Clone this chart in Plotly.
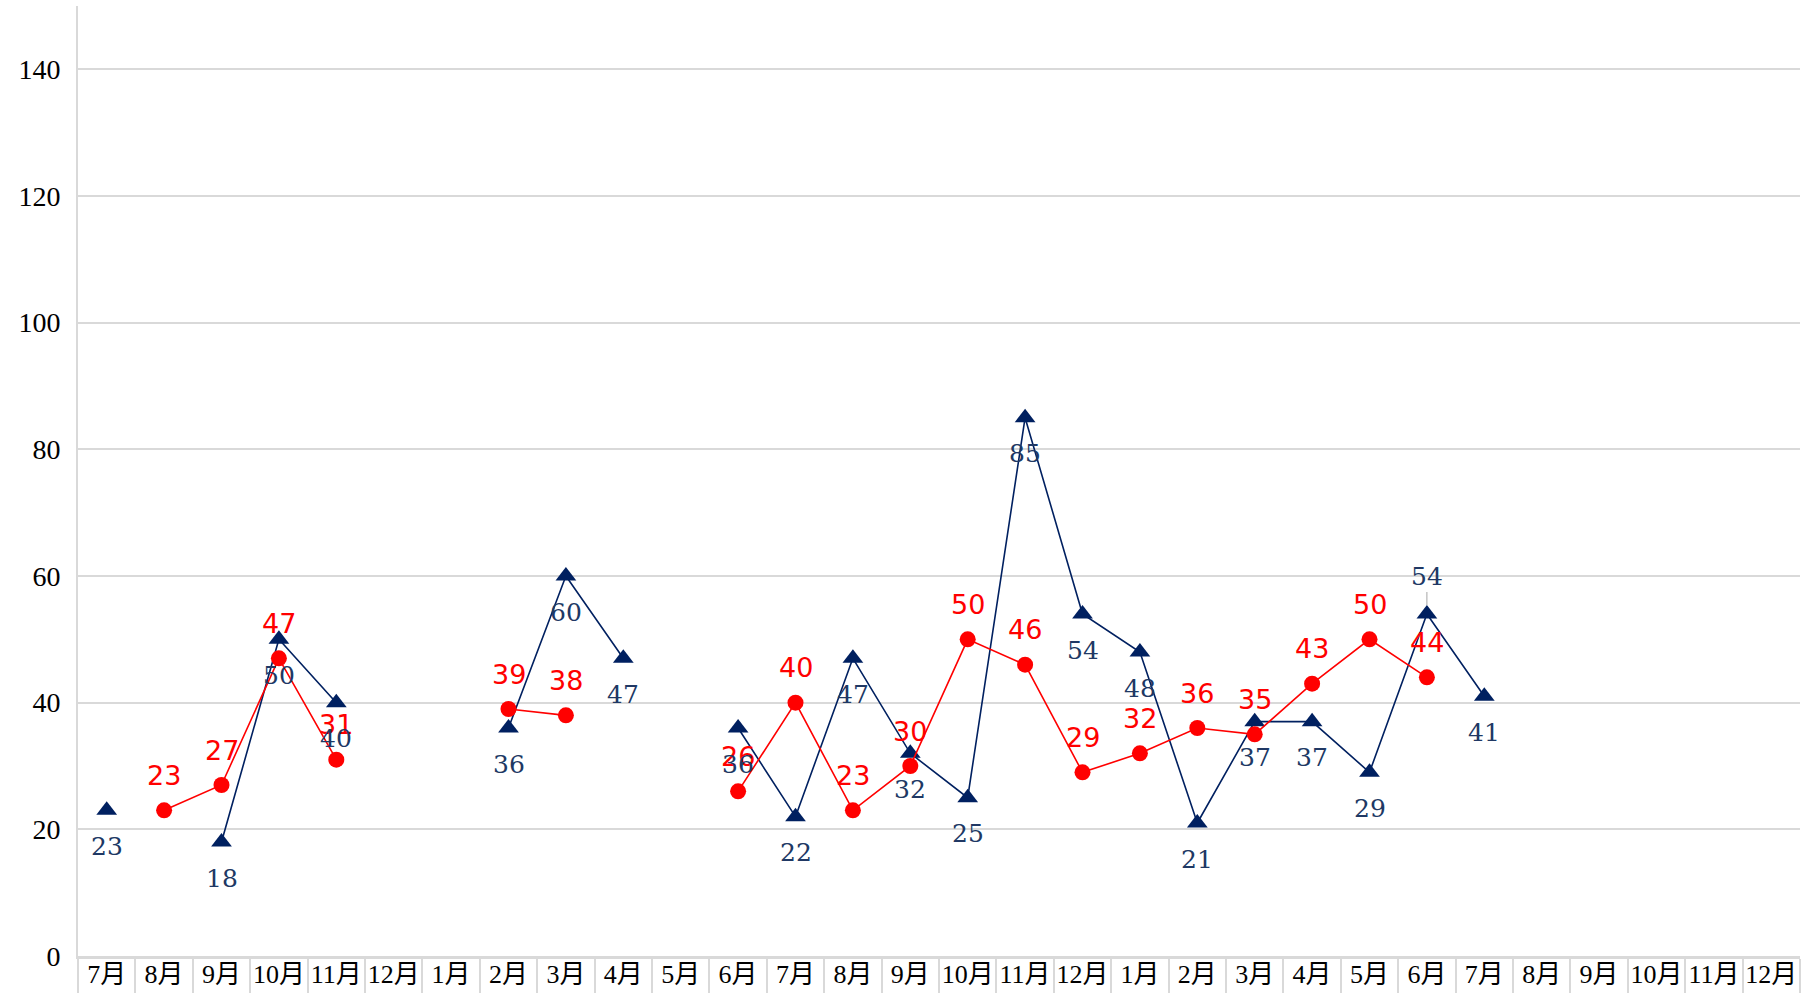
import plotly.graph_objects as go

months = ["7月", "8月", "9月", "10月", "11月", "12月", "1月", "2月", "3月", "4月", "5月", "6月",
          "7月", "8月", "9月", "10月", "11月", "12月", "1月", "2月", "3月", "4月", "5月", "6月",
          "7月", "8月", "9月", "10月", "11月", "12月"]

navy_vals = [23, None, 18, 50, 40, None, None, 36, 60, 47, None, 36, 22, 47, 32, 25, 85, 54,
             48, 21, 37, 37, 29, 54, 41, None, None, None, None, None]
red_vals = [None, 23, 27, 47, 31, None, None, 39, 38, None, None, 26, 40, 23, 30, 50, 46, 29,
            32, 36, 35, 43, 50, 44, None, None, None, None, None, None]

y_ticks = [0, 20, 40, 60, 80, 100, 120, 140]

NAVY = "#002060"
NAVY_TXT = "#203864"
RED = "#ff0000"
GRID = "#d9d9d9"

x = list(range(len(months)))

fig = go.Figure()
fig.add_trace(go.Scatter(x=x, y=navy_vals, mode="lines+markers",
                         line=dict(color=NAVY, width=1.6),
                         marker=dict(symbol="triangle-up", size=18, color=NAVY),
                         hoverinfo="skip"))
fig.add_trace(go.Scatter(x=x, y=red_vals, mode="lines+markers",
                         line=dict(color=RED, width=1.6),
                         marker=dict(symbol="circle", size=16, color=RED),
                         hoverinfo="skip"))

annotations = []
for i, v in enumerate(red_vals):
    if v is None:
        continue
    annotations.append(dict(x=i, y=v, text=str(v), showarrow=False, yshift=35,
                            font=dict(family="DejaVu Sans", size=27, color=RED)))
for i, v in enumerate(navy_vals):
    if v is None:
        continue
    if i == 23:
        # label above with a small grey leader line
        annotations.append(dict(x=i, y=v, text=str(v), showarrow=True, arrowhead=0,
                                arrowwidth=1, arrowcolor="#a6a6a6", ax=0, ay=-38, standoff=9,
                                font=dict(family="DejaVu Serif", size=25, color=NAVY_TXT)))
    else:
        annotations.append(dict(x=i, y=v, text=str(v), showarrow=False, yshift=-36,
                                font=dict(family="DejaVu Serif", size=25, color=NAVY_TXT)))

fig.update_layout(
    width=1806, height=993,
    margin=dict(l=78, r=6, t=6, b=37),
    plot_bgcolor="white", paper_bgcolor="white",
    showlegend=False,
    annotations=annotations,
    xaxis=dict(
        range=[-0.5, len(months) - 0.5],
        tickmode="array", tickvals=x, ticktext=months,
        ticks="", showgrid=False, zeroline=False, automargin=False,
        showline=True, linecolor=GRID, linewidth=3,
        tickfont=dict(family="Liberation Serif, Noto Sans CJK JP", size=26, color="#000000"),
        ticklabelstandoff=-7,
        minor=dict(tick0=-0.5, dtick=1, ticks="outside", ticklen=40,
                   tickcolor=GRID, tickwidth=2, showgrid=False),
    ),
    yaxis=dict(
        range=[0, 150],
        tickmode="array", tickvals=y_ticks, automargin=False,
        showgrid=True, gridcolor=GRID, gridwidth=1.5,
        zeroline=False, showline=True, linecolor=GRID, linewidth=2,
        tickfont=dict(family="Liberation Serif", size=28, color="#000000"),
        ticks="", ticklabelstandoff=10,
    ),
)

fig.write_html("out.html", config={"displayModeBar": False},
               post_script="document.body.style.margin='0';")
